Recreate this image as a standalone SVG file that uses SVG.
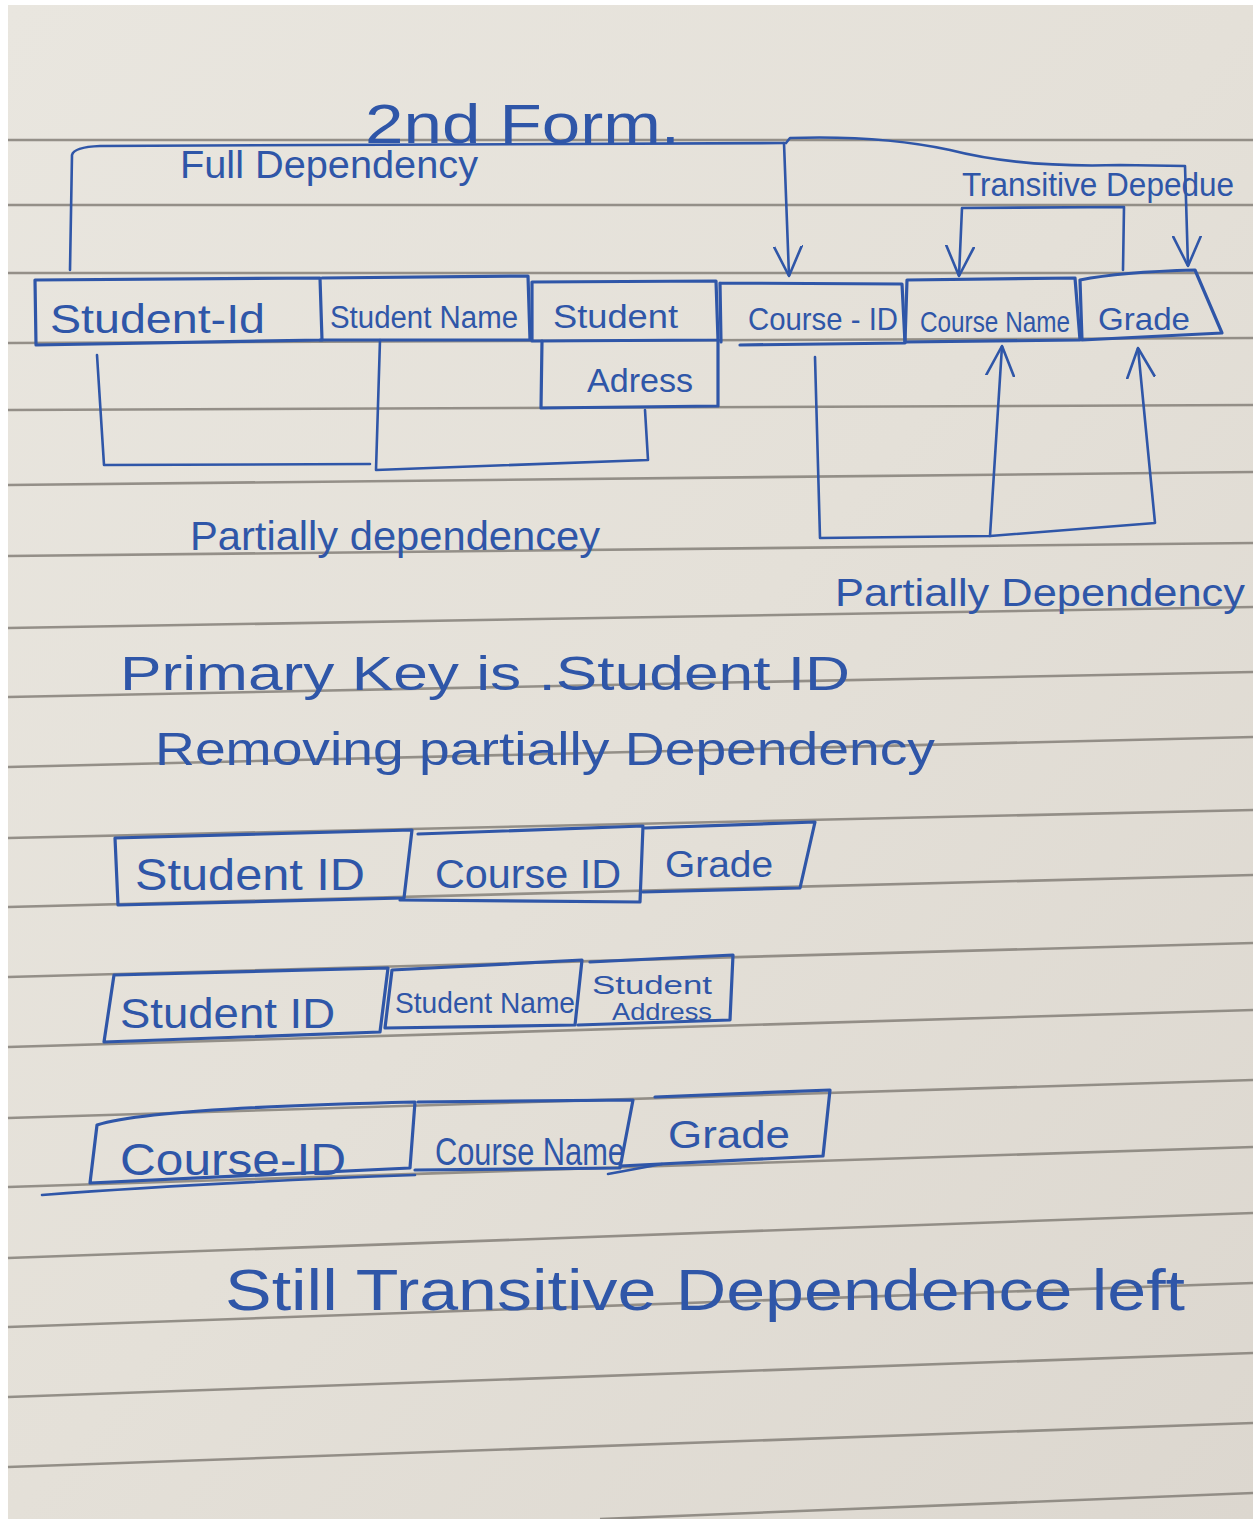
<svg xmlns="http://www.w3.org/2000/svg" width="1253" height="1519" viewBox="0 0 1253 1519">
<defs>
<linearGradient id="paper" x1="0" y1="0" x2="1" y2="1">
<stop offset="0" stop-color="#e9e6df"/>
<stop offset="0.5" stop-color="#e4e0d8"/>
<stop offset="1" stop-color="#dcd7cf"/>
</linearGradient>
<marker id="v" viewBox="0 0 30 30" refX="30" refY="15" markerWidth="30" markerHeight="30" markerUnits="userSpaceOnUse" orient="auto">
<path d="M0,1 L30,15 L0,29" fill="none" stroke="#2f56a8" stroke-width="2.6" stroke-linecap="round" stroke-linejoin="round"/>
</marker>
</defs>
<style>
.rule{stroke:#858079;stroke-width:2.6;fill:none;opacity:0.85}
.box{fill:none;stroke:#2f56a8;stroke-width:3.2;stroke-linejoin:round;stroke-linecap:round}
.ln{fill:none;stroke:#2f56a8;stroke-width:2.6;stroke-linejoin:round;stroke-linecap:round}
.t{font-family:"Liberation Sans","DejaVu Sans",sans-serif;fill:#2f56a8}
</style>
<rect width="1253" height="1519" fill="#ffffff"/>
<rect x="8" y="5" width="1245" height="1514" fill="url(#paper)"/>
<g id="rules">
<path class="rule" d="M8,140 L1253,140"/>
<path class="rule" d="M8,205 L1253,205"/>
<path class="rule" d="M8,273 L1253,273"/>
<path class="rule" d="M8,343 L1253,338"/>
<path class="rule" d="M8,410 L1253,405"/>
<path class="rule" d="M8,485 L1253,472"/>
<path class="rule" d="M8,556 L1253,543"/>
<path class="rule" d="M8,628 L1253,607"/>
<path class="rule" d="M8,697 L1253,672"/>
<path class="rule" d="M8,767 L1253,737"/>
<path class="rule" d="M8,838 L1253,810"/>
<path class="rule" d="M8,907 L1253,875"/>
<path class="rule" d="M8,977 L1253,943"/>
<path class="rule" d="M8,1047 L1253,1010"/>
<path class="rule" d="M8,1118 L1253,1080"/>
<path class="rule" d="M8,1187 L1253,1147"/>
<path class="rule" d="M8,1258 L1253,1213"/>
<path class="rule" d="M8,1327 L1253,1283"/>
<path class="rule" d="M8,1397 L1253,1353"/>
<path class="rule" d="M8,1467 L1253,1423"/>
<path class="rule" d="M600,1519 L1253,1493"/>
</g>
<g id="title">
<text class="t" x="365" y="143" font-size="56" textLength="315" lengthAdjust="spacingAndGlyphs">2nd  Form.</text>
</g>
<g id="connectors">
<path class="ln" d="M70,270 L72,155 Q74,147 100,146 L784,143"/>
<path class="ln" d="M784,143 L789,276" marker-end="url(#v)"/>
<path class="ln" d="M786,143 L790,138 Q880,135 950,150 Q1020,168 1120,165 L1185,166 L1188,266" marker-end="url(#v)"/>
<path class="ln" d="M1123,270 L1124,207 L962,208 L959,276" marker-end="url(#v)"/>
<path class="ln" d="M97,355 L104,465 L370,464"/>
<path class="ln" d="M380,340 L376,470 L648,460 L645,410"/>
<path class="ln" d="M815,357 L820,538 L990,536 L1155,523 L1138,348" marker-end="url(#v)"/>
<path class="ln" d="M990,536 L1002,346" marker-end="url(#v)"/>
<path class="ln" d="M42,1195 Q200,1183 415,1175"/>
<path class="ln" d="M608,1174 L662,1164"/>
</g>
<g id="label-full">
<text class="t" x="180" y="178" font-size="38" textLength="298" lengthAdjust="spacingAndGlyphs">Full Dependency</text>
</g>
<g id="label-transitive">
<text class="t" x="962" y="196" font-size="34" textLength="272" lengthAdjust="spacingAndGlyphs">Transitive Depedue</text>
</g>
<g id="node-student-id">
<path class="box" d="M35,280 L320,278 L322,340 L36,345 Z"/>
<text class="t" x="50" y="333" font-size="40" textLength="215" lengthAdjust="spacingAndGlyphs">Student-Id</text>
</g>
<g id="node-student-name">
<path class="box" d="M322,278 L528,276 L530,340 L320,340"/>
<text class="t" x="330" y="328" font-size="31" textLength="188" lengthAdjust="spacingAndGlyphs">Student Name</text>
</g>
<g id="node-student-address">
<path class="box" d="M532,282 L716,281 L718,340 L532,341 Z"/>
<path class="box" d="M542,341 L541,408 L718,406 L718,340"/>
<text class="t" x="553" y="328" font-size="34" textLength="125" lengthAdjust="spacingAndGlyphs">Student</text>
<text class="t" x="587" y="392" font-size="34" textLength="106" lengthAdjust="spacingAndGlyphs">Adress</text>
</g>
<g id="node-course-id">
<path class="box" d="M720,283 L902,284 L905,343 L740,345 M720,283 L721,342"/>
<text class="t" x="748" y="330" font-size="32" textLength="150" lengthAdjust="spacingAndGlyphs">Course - ID</text>
</g>
<g id="node-course-name">
<path class="box" d="M907,280 L1075,278 L1080,340 L905,342 Z"/>
<text class="t" x="920" y="332" font-size="30" textLength="150" lengthAdjust="spacingAndGlyphs">Course Name</text>
</g>
<g id="node-grade">
<path class="box" d="M1080,280 Q1120,272 1195,270 L1222,333 L1082,340 Z"/>
<text class="t" x="1098" y="330" font-size="32" textLength="92" lengthAdjust="spacingAndGlyphs">Grade</text>
</g>
<g id="label-partial-left">
<text class="t" x="190" y="550" font-size="40" textLength="410" lengthAdjust="spacingAndGlyphs">Partially dependencey</text>
</g>
<g id="label-partial-right">
<text class="t" x="835" y="606" font-size="38" textLength="410" lengthAdjust="spacingAndGlyphs">Partially Dependency</text>
</g>
<g id="notes">
<text class="t" x="120" y="690" font-size="48" textLength="730" lengthAdjust="spacingAndGlyphs">Primary  Key  is  .Student ID</text>
<text class="t" x="155" y="765" font-size="46" textLength="780" lengthAdjust="spacingAndGlyphs">Removing  partially  Dependency</text>
</g>
<g id="row1">
<g id="r1-student-id">
<path class="box" d="M115,838 L412,830 L404,898 L118,905 Z"/>
<text class="t" x="135" y="890" font-size="44" textLength="230" lengthAdjust="spacingAndGlyphs">Student ID</text>
</g>
<g id="r1-course-id">
<path class="box" d="M418,834 L643,826 L640,902 L400,900"/>
<text class="t" x="435" y="888" font-size="40" textLength="186" lengthAdjust="spacingAndGlyphs">Course ID</text>
</g>
<g id="r1-grade">
<path class="box" d="M645,828 L815,822 L800,888 L643,892"/>
<text class="t" x="665" y="877" font-size="36" textLength="108" lengthAdjust="spacingAndGlyphs">Grade</text>
</g>
</g>
<g id="row2">
<g id="r2-student-id">
<path class="box" d="M114,975 L388,968 L380,1032 L104,1042 Z"/>
<text class="t" x="120" y="1028" font-size="42" textLength="215" lengthAdjust="spacingAndGlyphs">Student ID</text>
</g>
<g id="r2-student-name">
<path class="box" d="M392,970 L582,960 L575,1025 L385,1028 Z"/>
<text class="t" x="395" y="1013" font-size="30" textLength="180" lengthAdjust="spacingAndGlyphs">Student Name</text>
</g>
<g id="r2-student-address">
<path class="box" d="M590,962 L733,955 L730,1020 L578,1025"/>
<text class="t" x="592" y="994" font-size="26" textLength="120" lengthAdjust="spacingAndGlyphs">Student</text>
<text class="t" x="612" y="1020" font-size="24" textLength="100" lengthAdjust="spacingAndGlyphs">Address</text>
</g>
</g>
<g id="row3">
<g id="r3-course-id">
<path class="box" d="M97,1125 Q150,1108 415,1102 L410,1168 L90,1183 Z"/>
<text class="t" x="120" y="1175" font-size="44" textLength="226" lengthAdjust="spacingAndGlyphs">Course-ID</text>
</g>
<g id="r3-course-name">
<path class="box" d="M418,1102 L633,1100 L620,1168 L415,1170"/>
<text class="t" x="435" y="1165" font-size="38" textLength="190" lengthAdjust="spacingAndGlyphs">Course Name</text>
</g>
<g id="r3-grade">
<path class="box" d="M655,1097 L830,1090 L823,1156 L620,1166"/>
<text class="t" x="668" y="1148" font-size="38" textLength="122" lengthAdjust="spacingAndGlyphs">Grade</text>
</g>
</g>
<g id="conclusion">
<text class="t" x="225" y="1310" font-size="58" textLength="960" lengthAdjust="spacingAndGlyphs">Still  Transitive  Dependence  left</text>
</g>
</svg>
